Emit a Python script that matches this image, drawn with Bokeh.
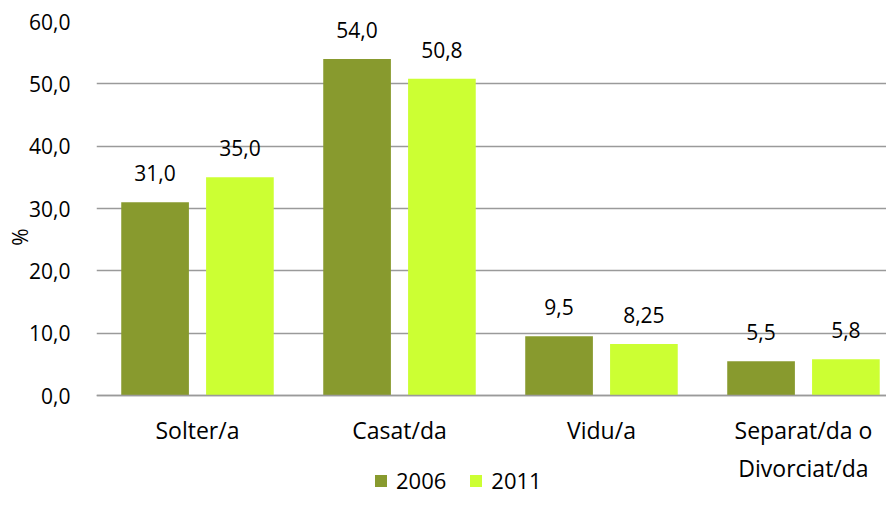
import math
from bokeh.plotting import figure
from bokeh.models import (Range1d, FixedTicker, Legend, LegendItem,
                          ColumnDataSource, LabelSet)
from bokeh.core.properties import value
from bokeh.embed import file_html
from bokeh.resources import INLINE

categories = ["Solter/a", "Casat/da", "Vidu/a", "Separat/da o\nDivorciat/da"]
series_names = ["2006", "2011"]
values_2006 = [31.0, 54.0, 9.5, 5.5]
values_2011 = [35.0, 50.8, 8.25, 5.8]
labels_2006 = ["31,0", "54,0", "9,5", "5,5"]
labels_2011 = ["35,0", "50,8", "8,25", "5,8"]
y_ticks = [0, 10, 20, 30, 40, 50, 60]
y_tick_labels = ["0,0", "10,0", "20,0", "30,0", "40,0", "50,0", "60,0"]
y_axis_label = "%"

FONT = "Open Sans"
DARK = "#889a2e"
LIME = "#ccff33"
GRID = "#9a9a9a"

centers = [i + 0.5 for i in range(len(categories))]
off = 0.21
bw = 0.335

p = figure(width=886, height=496, output_backend="svg", toolbar_location=None,
           x_range=Range1d(0, 3.911), y_range=Range1d(-16.2, 60),
           min_border_left=96, min_border_right=0, min_border_top=21,
           min_border_bottom=0)
p.outline_line_color = None

src1 = ColumnDataSource(dict(x=[c - off for c in centers], top=values_2006, text=labels_2006))
src2 = ColumnDataSource(dict(x=[c + off for c in centers], top=values_2011, text=labels_2011))

r1 = p.vbar(x="x", top="top", bottom=0, width=bw, source=src1, fill_color=DARK, line_color=None)
r2 = p.vbar(x="x", top="top", bottom=0, width=bw, source=src2, fill_color=LIME, line_color=None)

for s in (src1, src2):
    p.add_layout(LabelSet(x="x", y="top", text="text", source=s, text_align="center",
                          text_baseline="bottom", y_offset=21, text_font=value(FONT),
                          text_font_size="21px", text_color="#000000"))

# y axis
p.yaxis.ticker = FixedTicker(ticks=y_ticks)
p.yaxis.major_label_overrides = {t: l for t, l in zip(y_ticks, y_tick_labels)}
p.yaxis.axis_line_color = None
p.yaxis.major_tick_line_color = None
p.yaxis.minor_tick_line_color = None
p.yaxis.major_label_standoff = 20
p.yaxis.major_label_text_font = FONT
p.yaxis.major_label_text_font_size = "21px"
p.yaxis.major_label_text_color = "#000000"
p.yaxis.axis_label = "\u00a0" * 8 + y_axis_label
p.yaxis.axis_label_standoff = -8
p.yaxis.axis_label_text_font = FONT
p.yaxis.axis_label_text_font_size = "21px"
p.yaxis.axis_label_text_font_style = "normal"
p.yaxis.axis_label_text_color = "#000000"

# x axis fixed at zero
p.xaxis.fixed_location = 0
p.xaxis.ticker = FixedTicker(ticks=centers)
p.xaxis.major_label_overrides = {c: l for c, l in zip(centers, categories)}
p.xaxis.axis_line_color = GRID
p.xaxis.axis_line_width = 1.5
p.xaxis.major_tick_line_color = None
p.xaxis.minor_tick_line_color = None
p.xaxis.major_label_standoff = 12
p.xaxis.major_label_text_font = FONT
p.xaxis.major_label_text_font_size = "23px"
p.xaxis.major_label_text_color = "#000000"

p.xgrid.grid_line_color = None
p.ygrid.ticker = FixedTicker(ticks=y_ticks)
p.ygrid.grid_line_color = GRID
p.ygrid.grid_line_width = 1.5

legend = Legend(items=[LegendItem(label=series_names[0], renderers=[r1]),
                       LegendItem(label=series_names[1], renderers=[r2])],
                location=(277, 1), orientation="horizontal",
                glyph_width=15, glyph_height=15, label_standoff=8, spacing=22,
                padding=0, margin=0, border_line_color=None, background_fill_alpha=0,
                label_text_font=FONT, label_text_font_size="22px",
                label_text_color="#000000")
p.add_layout(legend, "center")

open("out.html", "w").write(file_html(p, INLINE))
